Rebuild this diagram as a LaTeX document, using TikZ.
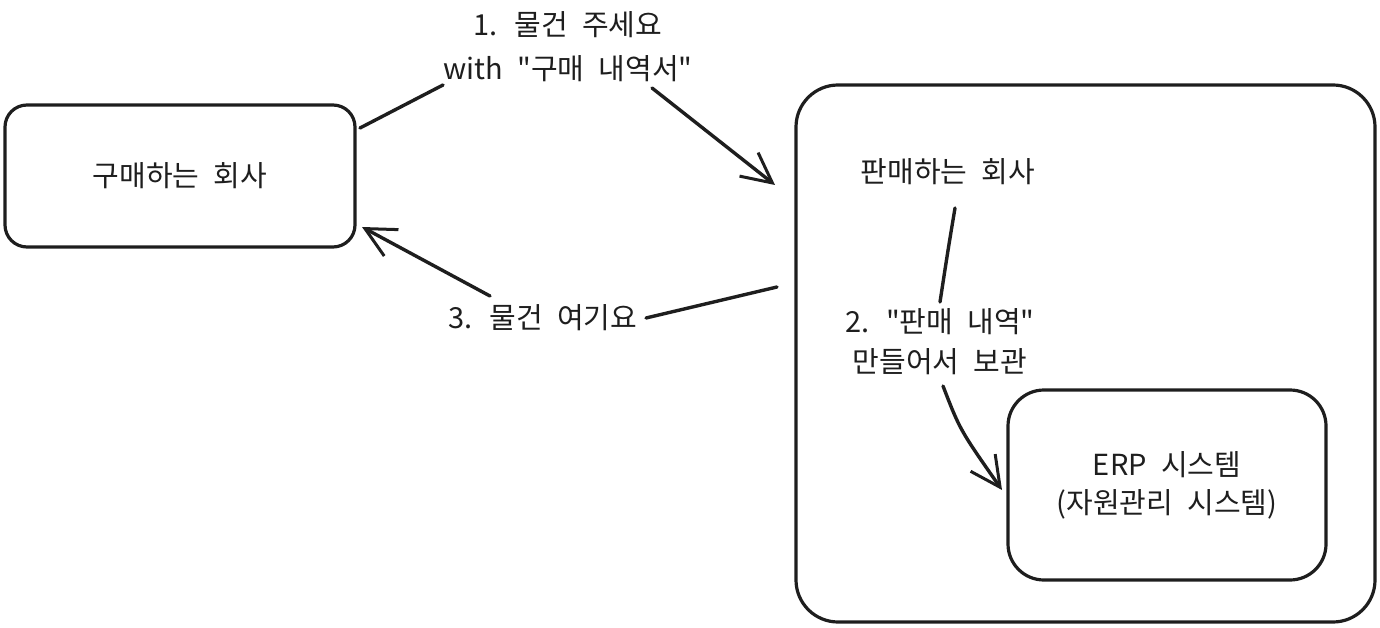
\documentclass[tikz,border=0pt]{standalone}
\usepackage{fontspec}
\newfontfamily\kfont{Noto Sans CJK KR}[WordSpace=2.2]
\usetikzlibrary{arrows.meta}
\definecolor{ink}{HTML}{1E1E1E}
\begin{document}
\begin{tikzpicture}[x=1pt,y=-1pt,line cap=round,line join=round,
  box/.style={draw=ink,line width=3.2pt,inner sep=0pt},
  txt/.style={inner sep=0pt,align=center,text=ink,font=\kfont\fontsize{29}{38}\selectfont},
  conn/.style={draw=ink,line width=3.4pt},
  arr/.style={conn,-{Straight Barb[length=30pt,width=30pt,line width=3pt]}}]
\useasboundingbox (0,0) rectangle (1380,628);
% boxes
\node[box,rounded corners=22pt,minimum width=350pt,minimum height=142pt,txt] (buyer) at (180,176) {구매하는 회사};
\node[box,rounded corners=42pt,minimum width=579pt,minimum height=537pt] (seller) at (1085.5,353.5) {};
\node[txt] (sellerlbl) at (948,172) {판매하는 회사};
\node[box,rounded corners=36pt,minimum width=318pt,minimum height=190pt,txt] (erp) at (1167,485) {ERP 시스템\\(자원관리 시스템)};
% labels
\node[txt,font=\kfont\fontsize{29}{44}\selectfont] (lab1) at (568,47) {1. 물건 주세요\\with \textquotedbl 구매 내역서\textquotedbl};
\node[txt] (lab3) at (543,318) {3. 물건 여기요};
\node[txt,font=\kfont\fontsize{29}{40}\selectfont] (lab2) at (940,342) {2. \textquotedbl 판매 내역\textquotedbl\\만들어서 보관};
% connector endpoints
\coordinate (c1a) at (360,128);
\coordinate (c1b) at (443,85);
\coordinate (c1c) at (652,88);
\coordinate (c1d) at (775,185);
\coordinate (c3a) at (777,287);
\coordinate (c3b) at (646,318);
\coordinate (c3c) at (490,296);
\coordinate (c3d) at (362,227);
\coordinate (c2a) at (955,208);
\coordinate (c2b) at (940,302);
\coordinate (c2c) at (943,386);
\coordinate (c2d) at (1002,490);
% connectors
\draw[conn] (c1a) -- (c1b);
\draw[arr] (c1c) -- (c1d);
\draw[conn] (c3a) -- (c3b);
\draw[arr] (c3c) -- (c3d);
\draw[conn] (c2a) .. controls (948,250) .. (c2b);
\draw[arr] (c2c) .. controls (960,430) .. (c2d);
\end{tikzpicture}
\end{document}
